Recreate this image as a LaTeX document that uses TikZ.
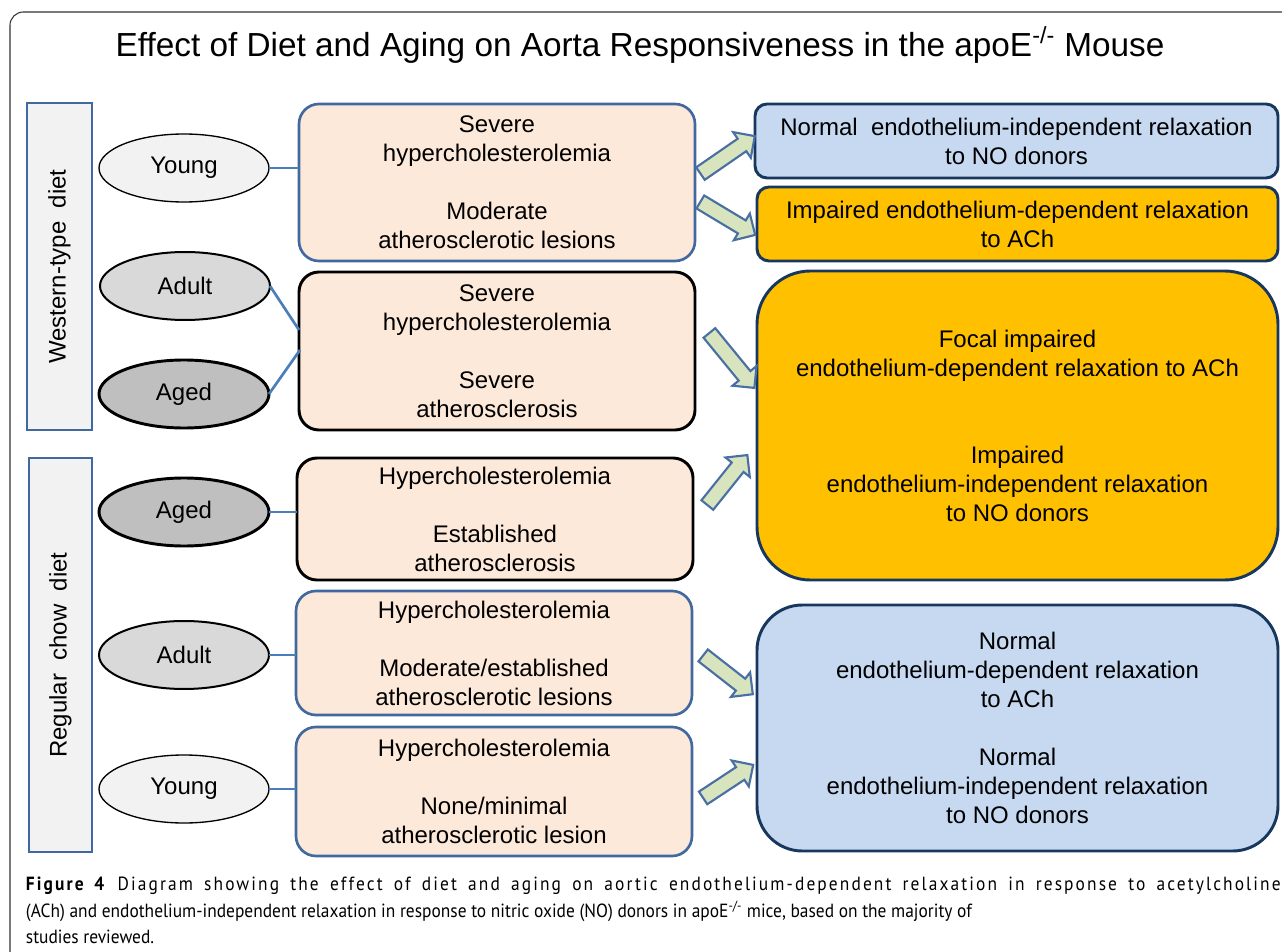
\documentclass[tikz,border=0pt]{standalone}
\usepackage{fontspec}
\setmainfont{Liberation Sans}
\newfontfamily\capfont[FakeStretch=0.913]{PT Sans}
\newfontfamily\capfontls[FakeStretch=0.913,LetterSpace=11]{PT Sans}
\usetikzlibrary{shapes.arrows,shapes.geometric,calc}
\definecolor{sidefill}{HTML}{F2F2F2}
\definecolor{sideblue}{HTML}{41699F}
\definecolor{linkblue}{HTML}{4A7EBB}
\definecolor{midfill}{HTML}{FDE9D9}
\definecolor{lightblue}{HTML}{C6D9F1}
\definecolor{navy}{HTML}{17375E}
\definecolor{gold}{HTML}{FFC000}
\definecolor{arrfill}{HTML}{D7E4BD}
\definecolor{arrline}{HTML}{4A6FA5}
\definecolor{young}{HTML}{F2F2F2}
\definecolor{adult}{HTML}{D9D9D9}
\definecolor{aged}{HTML}{BFBFBF}
\begin{document}
\begin{tikzpicture}[x=0.75pt,y=-0.75pt,
  every node/.style={inner sep=0pt, outer sep=0pt},
  body/.style={font=\fontsize{18}{21.75}\selectfont, align=center},
  sidebar/.style={draw=sideblue, line width=2pt, fill=sidefill},
  ell/.style={ellipse, draw=black, minimum width=170*0.75pt, minimum height=68*0.75pt, body},
  youngell/.style={ell, fill=young, line width=1pt},
  adultell/.style={ell, fill=adult, line width=1.5pt},
  agedell/.style={ell, fill=aged, line width=2.2pt},
  midbox/.style={body, fill=midfill, rounded corners=15pt, minimum width=396*0.75pt},
  midblue/.style={midbox, draw=sideblue, line width=2pt},
  midblack/.style={midbox, draw=black, line width=2.2pt},
  rbox/.style={body, draw=navy, line width=2.2pt, minimum width=521*0.75pt},
  link/.style={draw=linkblue, line width=2pt},
  barr/.style={single arrow, draw=arrline, fill=arrfill, line width=1.6pt,
    single arrow head extend=8*0.75pt,
    single arrow tip angle=90, inner sep=0pt}
]
\useasboundingbox (0,0) rectangle (1282,952);
% outer frame
\draw[draw=black!80, line width=0.8pt, rounded corners=10pt] (10,960) -- (10,12) -- (1290,12);

% title
\node[font=\fontsize{25}{30}\selectfont] (title) at (640,45) {Effect of Diet and Aging on Aorta Responsiveness in the apoE\textsuperscript{-/-} Mouse};

% side bars
\node[sidebar, minimum width=65*0.75pt, minimum height=327*0.75pt] (west) at (59.5,266.5) {};
\node[body, rotate=90] (westlbl) at (west.center) {Western-type\ \ diet};
\node[sidebar, minimum width=63*0.75pt, minimum height=394*0.75pt] (chow) at (60.5,655) {};
\node[body, rotate=90] (chowlbl) at (chow.center) {Regular\ \ chow\ \ diet};

% ellipses
\node[youngell] (wy) at (184,168) {Young};
\node[adultell] (wa) at (185,286) {Adult};
\node[agedell] (wg) at (184,394) {Aged};
\node[agedell] (cg) at (184,512) {Aged};
\node[adultell] (ca) at (184,655) {Adult};
\node[youngell] (cy) at (184,789) {Young};

% middle boxes
\node[midblue, minimum height=157*0.75pt] (m1) at (497,182.5) {Severe\\hypercholesterolemia\\[21.75pt]Moderate\\atherosclerotic lesions};
\node[midblack, minimum height=158*0.75pt] (m2) at (497,351) {Severe\\hypercholesterolemia\\[21.75pt]Severe\\atherosclerosis};
\node[midblack, minimum height=122*0.75pt] (m3) at (495,519) {Hypercholesterolemia\\[21.75pt]Established\\atherosclerosis};
\node[midblue, minimum height=124*0.75pt] (m4) at (494,653) {Hypercholesterolemia\\[21.75pt]Moderate/established\\atherosclerotic lesions};
\node[midblue, minimum height=129*0.75pt] (m5) at (494,791.5) {Hypercholesterolemia\\[21.75pt]None/minimal\\atherosclerotic lesion};

% right boxes
\node[rbox, fill=lightblue, rounded corners=9pt, minimum height=74*0.75pt, minimum width=523*0.75pt] (r1) at (1016.5,141) {Normal\ \ endothelium-independent relaxation\\to NO donors};
\node[rbox, fill=gold, rounded corners=9pt, minimum height=74*0.75pt] (r2) at (1017.5,224) {Impaired endothelium-dependent relaxation\\to ACh};
\node[rbox, fill=gold, rounded corners=40pt, minimum height=309*0.75pt] (r3) at (1017.5,425.5) {Focal impaired\\endothelium-dependent relaxation to ACh\\[43.5pt]Impaired\\endothelium-independent relaxation\\to NO donors};
\node[rbox, fill=lightblue, rounded corners=34pt, minimum height=246*0.75pt] (r4) at (1017.5,728) {Normal\\endothelium-dependent relaxation\\to ACh\\[21.75pt]Normal\\endothelium-independent relaxation\\to NO donors};

% links
\draw[link] (wy.east) -- (m1.west |- wy.east);
\coordinate (m2a) at (299,330);
\coordinate (m2b) at (300,350);
\draw[link] (wa.east) -- (m2a);
\draw[link] (wg.east) -- (m2b);
\draw[link] (cg.east) -- (m3.west |- cg.east);
\draw[link] (ca.east) -- (m4.west |- ca.east);
\draw[link] (cy.east) -- (m5.west |- cy.east);

% block arrows
\node[barr, minimum height=66*0.75pt, rotate=34.6] (a1) at (724.5,157) {\rule{0pt}{9.75pt}};
\node[barr, minimum height=64*0.75pt, rotate=-31] (a2) at (724.5,216.5) {\rule{0pt}{9.75pt}};
\node[barr, minimum height=71*0.75pt, rotate=-50.7] (a3) at (729.5,357.5) {\rule{0pt}{9.75pt}};
\node[barr, minimum height=64*0.75pt, rotate=51.3] (a4) at (725,483) {\rule{0pt}{9.75pt}};
\node[barr, minimum height=63*0.75pt, rotate=-38] (a5) at (725,672.5) {\rule{0pt}{9.75pt}};
\node[barr, minimum height=60*0.75pt, rotate=33.4] (a6) at (725,783.5) {\rule{0pt}{9.75pt}};

% caption
\node[anchor=north west, text width=941pt, align=justify, font=\capfont\fontsize{14.3}{20}\selectfont] (cap) at (26,877) {{\capfontls\textbf{Figure 4} Diagram showing the effect of diet and aging on aortic endothelium-dependent relaxation in response to acetylcholine\linebreak}(ACh) and endothelium-independent relaxation in response to nitric oxide (NO) donors in apoE\textsuperscript{-/-} mice, based on the majority of\newline studies reviewed.};
\end{tikzpicture}
\end{document}
